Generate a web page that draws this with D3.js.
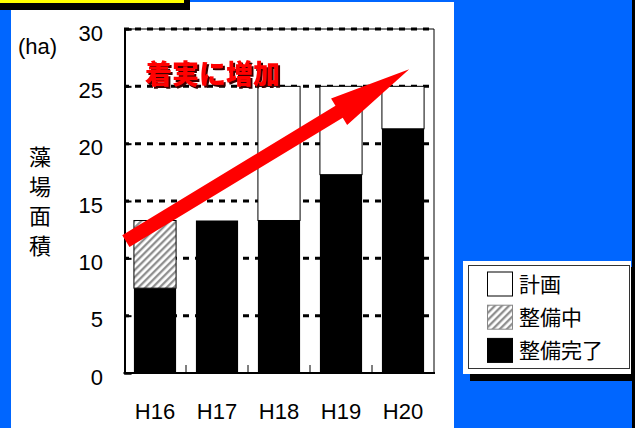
<!DOCTYPE html>
<html>
<head>
<meta charset="utf-8">
<script src="https://cdn.jsdelivr.net/npm/d3@7"></script>
<style>
  html, body { margin: 0; padding: 0; background: #0066ff; }
  svg { display: block; }
</style>
</head>
<body>
<svg id="chart" width="635" height="428"></svg>
<script>
// 藻場面積の推移 (ha)
const categories = ["H16", "H17", "H18", "H19", "H20"];
const completed  = [7.4, 13.3, 13.3, 17.3, 21.3];   // 整備完了
const inProgress = [5.9, 0, 0, 0, 0];               // 整備中
const planned    = [0, 0, 11.7, 7.7, 3.7];          // 計画
const yTicks     = [0, 5, 10, 15, 20, 25, 30];
const seriesNames = ["計画", "整備中", "整備完了"];
const yTitleChars = ["藻", "場", "面", "積"];
const unitLabel  = "(ha)";
const trendLabel = "着実に増加";
// trend arrow, in chart units: start at left edge, tip just right of H20
const trendFrom = { band: 0, offset: 0.03, value: 11.5 };
const trendTo   = { band: 4, offset: 0.60, value: 26.5 };

const svg = d3.select("#chart");
const latin = "'Liberation Sans', Arial, sans-serif";
const cjk = "'Noto Sans CJK JP', 'Noto Sans CJK SC', sans-serif";

// slide background pieces
svg.append("rect").attr("x", 0).attr("y", 0).attr("width", 635).attr("height", 428).attr("fill", "#0066ff");
svg.append("rect").attr("x", 632).attr("y", 0).attr("width", 3).attr("height", 428).attr("fill", "#000");
svg.append("rect").attr("x", 11).attr("y", 2).attr("width", 443).attr("height", 426).attr("fill", "#fff");
svg.append("rect").attr("x", 0).attr("y", -10).attr("width", 190).attr("height", 20).attr("fill", "#000");
svg.append("rect").attr("x", 0).attr("y", -10).attr("width", 184).attr("height", 13).attr("fill", "#ffff00");

const defs = svg.append("defs");

// hatch pattern
const pat = defs.append("pattern").attr("id", "hatch")
  .attr("patternUnits", "userSpaceOnUse").attr("width", 5).attr("height", 5)
  .attr("patternTransform", "rotate(45)");
pat.append("rect").attr("width", 5).attr("height", 5).attr("fill", "#fff");
pat.append("line").attr("x1", 1.2).attr("y1", 0).attr("x2", 1.2).attr("y2", 5)
  .attr("stroke", "#8a8a8a").attr("stroke-width", 2.2);

// hard drop shadow for the trend label
const shadow = defs.append("filter").attr("id", "shadow")
  .attr("x", "-5%").attr("y", "-10%").attr("width", "115%").attr("height", "130%");
shadow.append("feDropShadow").attr("dx", 2).attr("dy", 2).attr("stdDeviation", 0)
  .attr("flood-color", "#3a0000").attr("flood-opacity", 1);

// scales
const x = d3.scaleBand().domain(categories).range([124, 434]).padding(0);
const y = d3.scaleLinear().domain([0, 30]).range([373, 29]);
const barW = x.bandwidth() * 0.68;
const barX = c => x(c) + (x.bandwidth() - barW) / 2;

// dashed gridlines
svg.append("g").selectAll("line").data(yTicks.filter(v => v > 0)).join("line")
  .attr("x1", 124).attr("x2", 434)
  .attr("y1", d => y(d)).attr("y2", d => y(d))
  .attr("stroke", "#000").attr("stroke-width", 3)
  .attr("stroke-dasharray", "6,6").attr("stroke-dashoffset", 1);

// stacked bars
const rows = categories.map((c, i) => ({ c, done: completed[i], prog: inProgress[i], plan: planned[i] }));
const gBars = svg.append("g");
rows.forEach(r => {
  if (r.done > 0) gBars.append("rect")
    .attr("x", barX(r.c)).attr("width", barW)
    .attr("y", y(r.done)).attr("height", y(0) - y(r.done))
    .attr("fill", "#000");
  if (r.prog > 0) gBars.append("rect")
    .attr("x", barX(r.c)).attr("width", barW)
    .attr("y", y(r.done + r.prog)).attr("height", y(r.done) - y(r.done + r.prog))
    .attr("fill", "url(#hatch)").attr("stroke", "#000").attr("stroke-width", 1);
  if (r.plan > 0) gBars.append("rect")
    .attr("x", barX(r.c)).attr("width", barW)
    .attr("y", y(r.done + r.prog + r.plan)).attr("height", y(r.done + r.prog) - y(r.done + r.prog + r.plan))
    .attr("fill", "#fff").attr("stroke", "#000").attr("stroke-width", 1);
});

// frame
svg.append("line").attr("x1", 124).attr("x2", 434).attr("y1", y(30)).attr("y2", y(30)).attr("stroke", "#000").attr("stroke-width", 1);
svg.append("line").attr("x1", 434).attr("x2", 434).attr("y1", y(30)).attr("y2", y(0)).attr("stroke", "#000").attr("stroke-width", 1);

// y axis (ticks inside)
const yAxis = d3.axisRight(y).tickValues(yTicks).tickSize(7).tickFormat("");
const gy = svg.append("g").attr("transform", "translate(124.5,0)").call(yAxis);
gy.select(".domain").attr("stroke", "#000").attr("stroke-width", 2);
gy.selectAll(".tick line").attr("stroke", "#000").attr("stroke-width", 2);

svg.append("g").selectAll("text").data(yTicks).join("text")
  .attr("x", 103).attr("y", d => y(d) + 11.5)
  .attr("text-anchor", "end")
  .attr("font-family", latin).attr("font-size", 22).attr("fill", "#000")
  .text(d => d);

// x axis: ticks at band boundaries, pointing up
const bounds = categories.slice(1).map(c => x(c));
svg.append("g").selectAll("line").data(bounds).join("line")
  .attr("x1", d => d).attr("x2", d => d).attr("y1", y(0)).attr("y2", y(0) - 8)
  .attr("stroke", "#000").attr("stroke-width", 1);
svg.append("line").attr("x1", 123.5).attr("x2", 435).attr("y1", y(0)).attr("y2", y(0))
  .attr("stroke", "#000").attr("stroke-width", 2);

svg.append("g").selectAll("text").data(categories).join("text")
  .attr("x", d => x(d) + x.bandwidth() / 2).attr("y", 419)
  .attr("text-anchor", "middle")
  .attr("font-family", latin).attr("font-size", 22).attr("fill", "#000")
  .text(d => d);

// axis titles
svg.append("text").attr("x", 18).attr("y", 54)
  .attr("font-family", latin).attr("font-size", 22).attr("fill", "#000").text(unitLabel);
svg.append("g").selectAll("text").data(yTitleChars).join("text")
  .attr("x", 40).attr("y", (d, i) => 165 + i * 29.5)
  .attr("text-anchor", "middle")
  .attr("font-family", cjk).attr("font-size", 22).attr("fill", "#000")
  .text(d => d);

// trend arrow
const sx = x(categories[trendFrom.band]) + trendFrom.offset * x.bandwidth();
const sy = y(trendFrom.value);
const tx = x(categories[trendTo.band]) + trendTo.offset * x.bandwidth();
const ty = y(trendTo.value);
const len = Math.hypot(tx - sx, ty - sy);
const ux = (tx - sx) / len, uy = (ty - sy) / len;
const nx = -uy, ny = ux;
const shaftHalf = 7, headLen = 82, headHalf = 15.5;
const bx = tx - ux * headLen, by = ty - uy * headLen;
const arrowPts = [
  [sx + nx * shaftHalf, sy + ny * shaftHalf],
  [bx + nx * shaftHalf, by + ny * shaftHalf],
  [bx + nx * headHalf, by + ny * headHalf],
  [tx, ty],
  [bx - nx * headHalf, by - ny * headHalf],
  [bx - nx * shaftHalf, by - ny * shaftHalf],
  [sx - nx * shaftHalf, sy - ny * shaftHalf]
];
svg.append("path").attr("d", d3.line()(arrowPts) + "Z").attr("fill", "#ff0000");

// trend label
svg.append("text").attr("x", 145).attr("y", 84)
  .attr("font-family", cjk).attr("font-weight", 900).attr("font-size", 27)
  .attr("fill", "#ff0000").attr("filter", "url(#shadow)").text(trendLabel);

// legend
const lg = svg.append("g");
lg.append("rect").attr("x", 470).attr("y", 267).attr("width", 166).attr("height", 114).attr("fill", "#000");
lg.append("rect").attr("x", 463).attr("y", 261).attr("width", 168).attr("height", 113).attr("fill", "#fff");
lg.append("rect").attr("x", 468.5).attr("y", 265.5).attr("width", 161).attr("height", 103)
  .attr("fill", "none").attr("stroke", "#333").attr("stroke-width", 1);
const swFill = ["#fff", "url(#hatch)", "#000"];
const swStroke = ["#000", "#888", "#000"];
seriesNames.forEach((name, i) => {
  const cy = 284 + i * 33.2;
  lg.append("rect").attr("x", 487.5).attr("y", cy - 12).attr("width", 25).attr("height", 24)
    .attr("fill", swFill[i]).attr("stroke", swStroke[i]).attr("stroke-width", 1);
  lg.append("text").attr("x", 519).attr("y", cy + 7.5)
    .attr("font-family", cjk).attr("font-size", 21).attr("fill", "#000").text(name);
});
</script>
</body>
</html>
